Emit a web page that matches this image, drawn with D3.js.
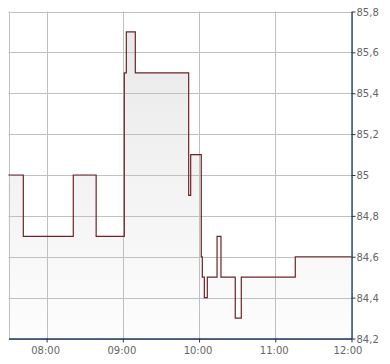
<!DOCTYPE html>
<html><head><meta charset="utf-8">
<script src="https://cdn.jsdelivr.net/npm/d3@7"></script>
<style>html,body{margin:0;padding:0;background:#fff;}svg{display:block;}</style>
</head><body>
<svg id="c" width="390" height="364"></svg>
<script>
const times = ["07:30:00","07:41:40","08:21:00","08:39:00","09:01:10","09:02:45","09:09:50","09:51:50","09:53:25","10:01:45","10:02:35","10:04:10","10:06:30","10:14:10","10:17:15","10:28:30","10:33:15","11:15:45","12:00:00"];
const values = [85.0,84.7,85.0,84.7,85.5,85.7,85.5,84.9,85.1,84.6,84.5,84.4,84.5,84.7,84.5,84.3,84.5,84.6,84.6];
const yTicks = [84.2,84.4,84.6,84.8,85.0,85.2,85.4,85.6,85.8];
const xTickLabels = ["08:00","09:00","10:00","11:00","12:00"];
const xDomain = ["07:30:00","12:00:00"];
const yDomain = [84.2,85.8];

const parse = d3.timeParse("%H:%M:%S");
const data = times.map((t,i)=>({t:parse(t), v:values[i]}));
const L=8.5, R=351.5, T=11.5, B=338.5;
const x = d3.scaleTime().domain(xDomain.map(parse)).range([L,R]);
const y = d3.scaleLinear().domain(yDomain).range([B,T]);
const svg = d3.select("#c");

const defs = svg.append("defs");
const g = defs.append("linearGradient").attr("id","fg").attr("gradientUnits","userSpaceOnUse")
  .attr("x1",0).attr("y1",T).attr("x2",0).attr("y2",B);
g.append("stop").attr("offset",0).attr("stop-color","#e8e8e8");
g.append("stop").attr("offset",1).attr("stop-color","#fdfdfd");

svg.append("path").datum(data)
  .attr("d", d3.area().curve(d3.curveStepAfter).x(d=>x(d.t)).y0(B).y1(d=>y(d.v)))
  .attr("fill","url(#fg)");

const xTickVals = xTickLabels.map(s=>parse(s+":00"));
// grid
svg.append("g").selectAll("line").data(yTicks).join("line")
  .attr("x1",L).attr("x2",R).attr("y1",d=>Math.round(y(d))+0.5).attr("y2",d=>Math.round(y(d))+0.5)
  .attr("stroke","#c0c0c0").attr("stroke-width",1);
svg.append("g").selectAll("line").data([x.domain()[0], ...xTickVals]).join("line")
  .attr("x1",d=>Math.round(x(d))+0.5).attr("x2",d=>Math.round(x(d))+0.5).attr("y1",T).attr("y2",B)
  .attr("stroke","#c0c0c0").attr("stroke-width",1);

svg.append("path").datum(data)
  .attr("d", d3.line().curve(d3.curveStepAfter).x(d=>x(d.t)).y(d=>y(d.v)))
  .attr("fill","none").attr("stroke","#6b2529").attr("stroke-width",1.2);

// axes
const fmt = d3.format(".1f");
const ya = d3.axisRight(y).tickValues(yTicks).tickSize(4).tickSizeOuter(0)
  .tickFormat(d=>{let s=fmt(d); if(s.endsWith(".0")) s=s.slice(0,-2); return s.replace(".",",");});
const yg = svg.append("g").attr("transform",`translate(${R},0)`).call(ya);
const xa = d3.axisBottom(x).tickValues(xTickVals).tickSize(4).tickSizeOuter(0)
  .tickFormat((d,i)=>xTickLabels[i]);
const xg = svg.append("g").attr("transform",`translate(0,${B})`).call(xa);
[yg,xg].forEach(a=>{
  a.select(".domain").attr("stroke","#1f3a60").attr("stroke-width",1.3);
  a.selectAll(".tick line").attr("stroke","#1f3a60");
  a.selectAll("text").attr("fill","#666").style("font-family","'DejaVu Sans', Verdana, sans-serif").style("font-size","10px");
});
yg.selectAll("text").attr("x",5).attr("dy","0.35em");
xg.selectAll("text").attr("y",8).attr("dx",(d,i)=> i===xTickLabels.length-1 ? -4 : -1.5);
</script>
</body></html>
